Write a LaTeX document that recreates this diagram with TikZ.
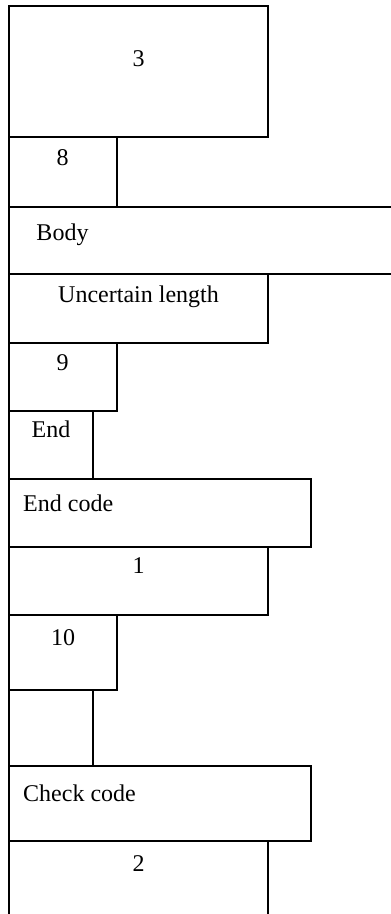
\documentclass[tikz,border=0pt]{standalone}
\usepackage{fontspec}
\setmainfont{Liberation Serif}
\begin{document}
\begin{tikzpicture}[x=1pt,y=-1pt,
    cell/.style={draw=black, line width=2pt},
    lbl/.style={inner sep=0pt, anchor=base, font=\fontsize{24}{28}\selectfont},
    lbll/.style={lbl, anchor=base west}]
  \useasboundingbox (0,0) rectangle (391,914);
  % stacked field cells, top to bottom
  \draw[cell] (9,6) rectangle (268,137);
  \draw[cell] (9,137) rectangle (117,207);
  \draw[cell] (391,207) -- (9,207) -- (9,274) -- (391,274);
  \draw[cell] (9,274) rectangle (268,343);
  \draw[cell] (9,343) rectangle (117,411);
  \draw[cell] (9,411) rectangle (93,479);
  \draw[cell] (9,479) rectangle (311,547);
  \draw[cell] (9,547) rectangle (268,615);
  \draw[cell] (9,615) rectangle (117,689.5);
  \draw[cell] (9,689.5) rectangle (93,766);
  \draw[cell] (9,766) rectangle (311,841);
  \draw[cell] (9,914) -- (9,841) -- (268,841) -- (268,914);
  % cell labels
  \node[lbl] (t3) at (138.5,66) {3};
  \node[lbl] (t8) at (62.5,165) {8};
  \node[lbl] (tbody) at (62.5,240) {Body};
  \node[lbl] (tunc) at (138.5,302) {Uncertain length};
  \node[lbl] (t9) at (62.5,370) {9};
  \node[lbl] (tend) at (51,437) {End};
  \node[lbll] (tendcode) at (23,511) {End code};
  \node[lbl] (t1) at (138.5,573) {1};
  \node[lbl] (t10) at (63,645) {10};
  \node[lbll] (tcheck) at (23,801) {Check code};
  \node[lbl] (t2) at (138.5,871) {2};
\end{tikzpicture}
\end{document}
